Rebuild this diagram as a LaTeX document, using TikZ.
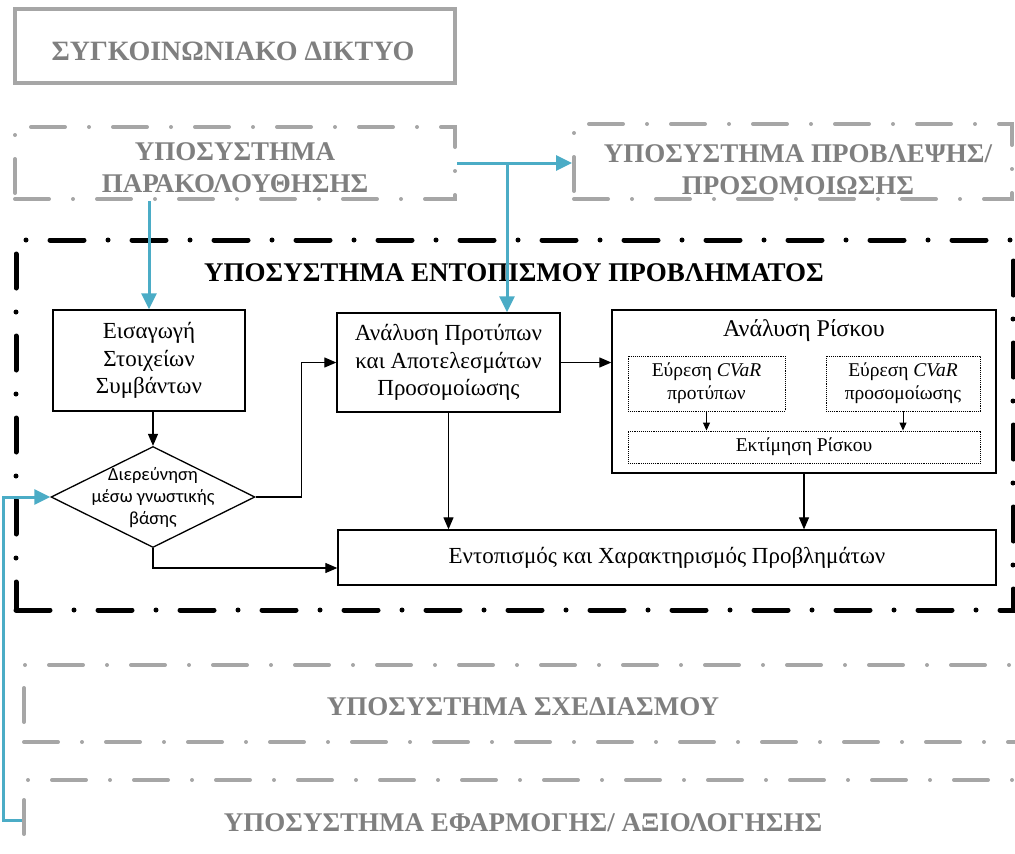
\documentclass[tikz,border=0pt]{standalone}
\usepackage{fontspec}
\setmainfont{Liberation Serif}
\newfontfamily\hdfont{Liberation Serif}
\newfontfamily\dmfont{Carlito}
\usetikzlibrary{arrows.meta,shapes.geometric,calc}

\definecolor{lineGray}{HTML}{A6A6A6}
\definecolor{textGray}{HTML}{7F7F7F}
\definecolor{linkBlue}{HTML}{4BACC6}

\begin{document}
\begin{tikzpicture}[x=1pt,y=-1pt,
  hd/.style={font=\hdfont\bfseries\fontsize{27}{32}\selectfont, align=center, inner sep=0pt},
  frame/.style={rectangle, inner sep=0pt},
  graysolid/.style={frame, draw=lineGray, line width=4pt},
  graydash/.style={frame, draw=lineGray, line width=4pt, line cap=round,
    dash pattern=on 34pt off 24pt on 0pt off 24pt},
  blackdash/.style={frame, draw=black, line width=5pt, line cap=round,
    dash pattern=on 34pt off 24pt on 0pt off 24pt},
  proc/.style={draw, line width=1.3pt, rectangle, inner sep=0pt, align=center,
    font=\fontsize{23}{27.5}\selectfont},
  subbox/.style={draw, densely dotted, line width=0.9pt, rectangle, inner sep=0pt,
    align=center, font=\fontsize{19.5}{23}\selectfont},
  arr/.style={draw, line width=1.2pt, -{Triangle[length=12pt,width=10pt]}},
  sarr/.style={draw, line width=1pt, -{Triangle[length=8pt,width=7pt]}},
  barr/.style={draw=linkBlue, line width=3pt, -{Triangle[length=16pt,width=15pt]}},
]
\useasboundingbox (0,0) rectangle (1015,854);
\begin{scope}
\clip (0,0) rectangle (1015,854);

% outer subsystems
\node[graysolid, minimum width=440pt, minimum height=74pt] (net) at (235,46) {};
\node[hd, text=textGray, font=\hdfont\bfseries\fontsize{28}{32}\selectfont]
  (nettext) at (233,51) {ΣΥΓΚΟΙΝΩΝΙΑΚΟ ΔΙΚΤΥΟ};

\node[graydash, minimum width=440pt, minimum height=72pt] (mon) at (235,163) {};
\node[hd, text=textGray] (montext) at (235,168) {ΥΠΟΣΥΣΤΗΜΑ\\ΠΑΡΑΚΟΛΟΥΘΗΣΗΣ};

\node[graydash, minimum width=438pt, minimum height=75pt] (sim) at (793,161.5) {};
\node[hd, text=textGray] (simtext) at (798,170) {ΥΠΟΣΥΣΤΗΜΑ ΠΡΟΒΛΕΨΗΣ/\\ΠΡΟΣΟΜΟΙΩΣΗΣ};

\node[graydash, minimum width=1016pt, minimum height=77pt] (plan) at (532,703.5) {};
\node[hd, text=textGray] (plantext) at (523,707) {ΥΠΟΣΥΣΤΗΜΑ ΣΧΕΔΙΑΣΜΟΥ};

\node[graydash, minimum width=1016pt, minimum height=80pt] (app) at (532,820) {};
\node[hd, text=textGray] (apptext) at (523,823) {ΥΠΟΣΥΣΤΗΜΑ ΕΦΑΡΜΟΓΗΣ/ ΑΞΙΟΛΟΓΗΣΗΣ};

% problem detection subsystem
\node[blackdash, minimum width=997pt, minimum height=370pt] (detect) at (514.5,425) {};
\node[hd, text=black] (dettitle) at (514,273) {ΥΠΟΣΥΣΤΗΜΑ ΕΝΤΟΠΙΣΜΟΥ ΠΡΟΒΛΗΜΑΤΟΣ};

\node[proc, minimum width=192pt, minimum height=101pt] (eis) at (149,360.5)
  {Εισαγωγή\\Στοιχείων\\Συμβάντων};

\node[diamond, draw, line width=1.3pt, inner sep=0pt,
  minimum width=204pt, minimum height=101pt] (dia) at (153,497) {};
\node[font=\dmfont\fontsize{18.5}{22}\selectfont, align=center, inner sep=0pt]
  (diatext) at (153,498) {Διερεύνηση\\μέσω γνωστικής\\βάσης};

\node[proc, minimum width=223pt, minimum height=99pt] (pat) at (448.5,362.5)
  {Ανάλυση Προτύπων\\και Αποτελεσμάτων\\Προσομοίωσης};

\node[proc, minimum width=384pt, minimum height=163pt] (risk) at (804,391.5) {};
\node[font=\fontsize{24}{27}\selectfont, inner sep=0pt] (risktitle) at (804,331)
  {Ανάλυση Ρίσκου};

\node[subbox, minimum width=157pt, minimum height=55pt] (cv1) at (706.5,383.5)
  {Εύρεση \textit{CVaR}\\προτύπων};
\node[subbox, minimum width=154pt, minimum height=55pt] (cv2) at (903,383.5)
  {Εύρεση \textit{CVaR}\\προσομοίωσης};
\node[subbox, minimum width=352pt, minimum height=32pt] (est) at (804,447)
  {Εκτίμηση Ρίσκου};

\node[proc, minimum width=658pt, minimum height=55pt] (loc) at (667,557.5)
  {Εντοπισμός και Χαρακτηρισμός Προβλημάτων};

% information flows between subsystems
\coordinate (split) at (507,163);
\draw[barr] (mon.east) -- (sim.west |- mon.east);
\draw[barr] (split) -- (split |- pat.north);
\draw[barr] (mon.south -| eis.north) -- (eis.north);
\draw[barr] (app.west) -- ++(-19,0) |- (dia.west);

% internal flows
\draw[arr] (dia.north |- eis.south) -- (dia.north);
\draw[arr] (dia.east) -- ++(46,0) |- (pat.west);
\draw[arr] (pat.east) -- (pat.east -| risk.west);
\draw[arr] (pat.south) -- (pat.south |- loc.north);
\draw[arr] (risk.south) -- (risk.south |- loc.north);
\draw[arr] (dia.south) |- ($(loc.west)+(0,10.5)$);
\draw[sarr] (cv1.south) -- (cv1.south |- est.north);
\draw[sarr] (cv2.south) -- (cv2.south |- est.north);
\end{scope}
\end{tikzpicture}
\end{document}
